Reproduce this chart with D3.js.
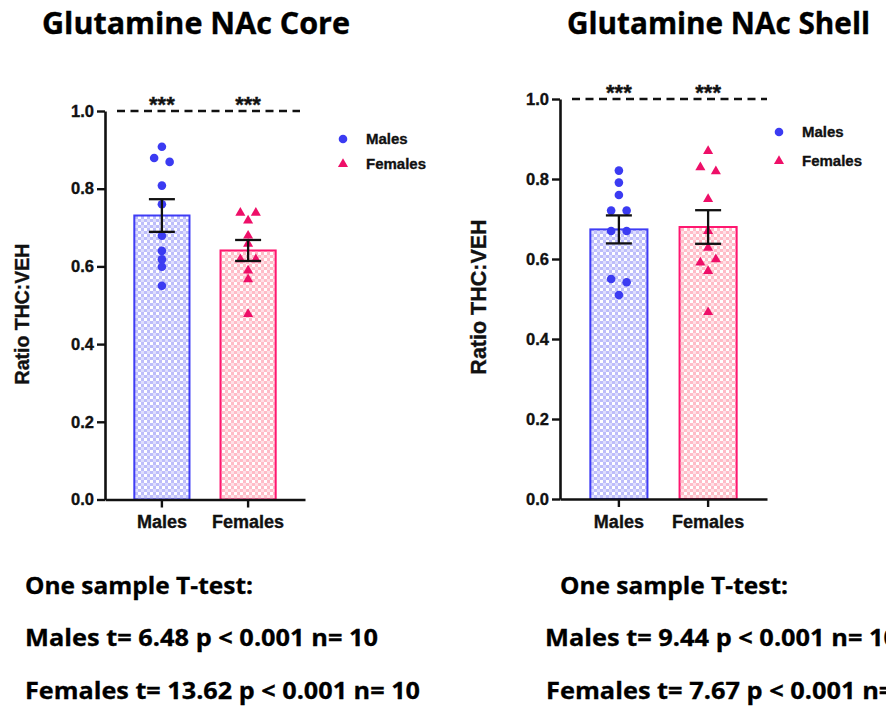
<!DOCTYPE html>
<html>
<head>
<meta charset="utf-8">
<script src="https://cdn.jsdelivr.net/npm/d3@7"></script>
<style>
  html, body { margin: 0; padding: 0; background: #fff; }
  svg { display: block; }
</style>
</head>
<body>
<svg id="chart" width="886" height="706"></svg>
<script>
// Group labels shared by both panels
const groups = ["Males", "Females"];
const yTicks = [0.0, 0.2, 0.4, 0.6, 0.8, 1.0];

// Glutamine, NAc core: individual THC:VEH ratios
const coreMales   = [0.908, 0.879, 0.869, 0.808, 0.760, 0.679, 0.640, 0.618, 0.599, 0.550];
const coreFemales = [0.738, 0.738, 0.718, 0.679, 0.658, 0.618, 0.618, 0.589, 0.567, 0.477];
const coreMeans = [0.731, 0.641];
const coreSems  = [0.042, 0.027];
const coreStats = ["One sample T-test:", "Males t= 6.48 p < 0.001 n= 10", "Females t= 13.62 p < 0.001 n= 10"];

// Glutamine, NAc shell: individual THC:VEH ratios
const shellMales   = [0.821, 0.791, 0.760, 0.721, 0.721, 0.670, 0.670, 0.550, 0.542, 0.510];
const shellFemales = [0.870, 0.829, 0.819, 0.750, 0.670, 0.628, 0.591, 0.599, 0.570, 0.467];
const shellMeans = [0.674, 0.680];
const shellSems  = [0.035, 0.042];
const shellStats = ["One sample T-test:", "Males t= 9.44 p < 0.001 n= 10", "Females t= 7.67 p < 0.001 n= 10"];

const sigMarks = ["***", "***"];
const legendLabels = ["Males", "Females"];

const svg = d3.select("#chart");
const AX = "'Liberation Sans', Arial, sans-serif";
const CAL = "'Open Sans', 'Noto Sans', sans-serif";

const colors = {
  Males:   { stroke: "#3f3cf5", dot: "#3b3bf2", light: "#bdbdfa", lighter: "#dedefd" },
  Females: { stroke: "#ff1770", dot: "#ee0f68", light: "#ffbcc7", lighter: "#ffe0e6" }
};

// Checkered fills for the bars
const defs = svg.append("defs");
groups.forEach(g => {
  const p = defs.append("pattern")
    .attr("id", "chk-" + g)
    .attr("width", 6).attr("height", 6)
    .attr("patternUnits", "userSpaceOnUse");
  p.append("rect").attr("width", 6).attr("height", 6).attr("fill", colors[g].light);
  p.append("rect").attr("x", 0).attr("y", 0).attr("width", 3).attr("height", 3).attr("fill", "#ffffff");
  p.append("rect").attr("x", 3).attr("y", 3).attr("width", 3).attr("height", 3).attr("fill", colors[g].lighter);
});

// Side-by-side offsets for points whose values nearly coincide
function spread(values, gap, step) {
  const idx = values.map((v, i) => i).sort((a, b) => values[b] - values[a]);
  const clusters = [];
  idx.forEach(i => {
    const last = clusters[clusters.length - 1];
    if (last && Math.abs(values[last[last.length - 1]] - values[i]) < gap) last.push(i);
    else clusters.push([i]);
  });
  const off = new Array(values.length).fill(0);
  clusters.forEach(c => {
    c.sort((a, b) => a - b);
    c.forEach((i, k) => { off[i] = (k - (c.length - 1) / 2) * step; });
  });
  return off;
}

function boldText(sel, family, size) {
  return sel.attr("font-family", family).attr("font-weight", "bold")
    .attr("font-size", size).attr("fill", "#111")
    .attr("stroke", "#111").attr("stroke-width", 0.35);
}

function drawPanel(cfg) {
  const g = svg.append("g");
  const x = d3.scaleBand().domain(groups).range([cfg.x0, cfg.x1])
    .paddingInner(0.36).paddingOuter(0.34);
  const y = d3.scaleLinear().domain([0, 1]).range([cfg.yBottom, cfg.yTop]);

  // Bars
  g.selectAll("rect.bar").data(groups).join("rect")
    .attr("class", "bar")
    .attr("x", d => x(d))
    .attr("width", x.bandwidth())
    .attr("y", (d, i) => y(cfg.means[i]))
    .attr("height", (d, i) => y(0) - y(cfg.means[i]))
    .attr("fill", d => `url(#chk-${d})`)
    .attr("stroke", d => colors[d].stroke)
    .attr("stroke-width", 2);

  // Individual points
  const series = [cfg.males, cfg.females];
  series.forEach((vals, si) => {
    const grp = groups[si];
    const cx = x(grp) + x.bandwidth() / 2;
    const off = spread(vals, 0.015, 15.5);
    if (si === 0) {
      g.selectAll(null).data(vals).join("circle")
        .attr("cx", (d, i) => cx + off[i])
        .attr("cy", d => y(d))
        .attr("r", 4.3)
        .attr("fill", colors[grp].dot);
    } else {
      g.selectAll(null).data(vals).join("path")
        .attr("d", d3.symbol(d3.symbolTriangle, 44))
        .attr("transform", (d, i) => `translate(${cx + off[i]},${y(d)})`)
        .attr("fill", colors[grp].dot);
    }
  });

  // Mean ± SEM
  groups.forEach((grp, i) => {
    const cx = x(grp) + x.bandwidth() / 2;
    const hi = y(cfg.means[i] + cfg.sems[i]);
    const lo = y(cfg.means[i] - cfg.sems[i]);
    const w = 13;
    const eb = g.append("g").attr("stroke", "#111").attr("stroke-width", 2.3);
    eb.append("line").attr("x1", cx).attr("x2", cx).attr("y1", hi).attr("y2", lo);
    eb.append("line").attr("x1", cx - w).attr("x2", cx + w).attr("y1", hi).attr("y2", hi);
    eb.append("line").attr("x1", cx - w).attr("x2", cx + w).attr("y1", lo).attr("y2", lo);
  });

  // Reference line at ratio 1.0
  g.append("line")
    .attr("x1", cfg.x0 + 12).attr("x2", cfg.dashEnd)
    .attr("y1", y(1)).attr("y2", y(1))
    .attr("stroke", "#111").attr("stroke-width", 2.5)
    .attr("stroke-dasharray", "8,5.5");

  // Significance stars
  boldText(g.selectAll(null).data(groups).join("text"), AX, 22)
    .attr("x", d => x(d) + x.bandwidth() / 2)
    .attr("y", y(1) + 1)
    .attr("text-anchor", "middle")
    .text((d, i) => sigMarks[i]);

  // Y axis
  const ya = g.append("g").attr("transform", `translate(${cfg.x0},0)`)
    .call(d3.axisLeft(y).tickValues(yTicks).tickFormat(d3.format(".1f"))
      .tickSize(8).tickSizeOuter(0).tickPadding(3));
  ya.select(".domain").attr("stroke", "#111").attr("stroke-width", 2.6);
  ya.selectAll(".tick line").attr("stroke", "#111").attr("stroke-width", 2.4);
  boldText(ya.selectAll(".tick text"), AX, 16.5);

  // X axis
  const xa = g.append("g").attr("transform", `translate(0,${y(0)})`)
    .call(d3.axisBottom(x).tickSize(8).tickSizeOuter(0).tickPadding(8));
  xa.select(".domain").attr("stroke", "#111").attr("stroke-width", 2.6);
  xa.selectAll(".tick line").attr("stroke", "#111").attr("stroke-width", 2.4);
  boldText(xa.selectAll(".tick text"), AX, 18);

  // Y axis title
  boldText(g.append("text"), AX, cfg.yTitleSize)
    .attr("transform", `translate(${cfg.yTitleX},${cfg.yTitleY}) rotate(-90)`)
    .attr("text-anchor", "middle")
    .text("Ratio THC:VEH");

  // Legend
  legendLabels.forEach((lab, i) => {
    const ly = cfg.legendY[i];
    if (i === 0) {
      g.append("circle").attr("cx", cfg.legendX).attr("cy", ly).attr("r", 4.3)
        .attr("fill", colors[lab].dot);
    } else {
      g.append("path").attr("d", d3.symbol(d3.symbolTriangle, 44))
        .attr("transform", `translate(${cfg.legendX},${ly})`)
        .attr("fill", colors[lab].dot);
    }
    boldText(g.append("text"), AX, 15)
      .attr("x", cfg.legendX + 23).attr("y", ly)
      .attr("dy", "0.36em")
      .text(lab);
  });

  // Panel title
  g.append("text")
    .attr("x", cfg.titleX).attr("y", 34)
    .attr("font-family", CAL).attr("font-weight", "bold").attr("font-size", 31)
    .attr("textLength", cfg.titleLen).attr("lengthAdjust", "spacingAndGlyphs")
    .attr("fill", "#000").attr("stroke", "#000").attr("stroke-width", 0.4)
    .text(cfg.title);

  // Test summary
  cfg.stats.forEach((s, i) => {
    g.append("text")
      .attr("x", cfg.statsX[i]).attr("y", cfg.statsY[i])
      .attr("font-family", CAL).attr("font-weight", "bold").attr("font-size", 24)
      .attr("textLength", cfg.statsLen[i]).attr("lengthAdjust", "spacingAndGlyphs")
      .attr("fill", "#000").attr("stroke", "#000").attr("stroke-width", 0.3)
      .text(s);
  });
}

drawPanel({
  title: "Glutamine NAc Core", titleX: 42, titleLen: 308,
  x0: 105, x1: 305, yBottom: 499.5, yTop: 111, dashEnd: 300,
  means: coreMeans, sems: coreSems, males: coreMales, females: coreFemales,
  yTitleX: 29, yTitleY: 314, yTitleSize: 19.5,
  legendX: 343, legendY: [139, 164],
  stats: coreStats, statsX: [25, 25, 25], statsY: [594, 646, 699],
  statsLen: [228, 353, 395]
});

drawPanel({
  title: "Glutamine NAc Shell", titleX: 567, titleLen: 303,
  x0: 560, x1: 767, yBottom: 499, yTop: 99, dashEnd: 767,
  means: shellMeans, sems: shellSems, males: shellMales, females: shellFemales,
  yTitleX: 486, yTitleY: 297, yTitleSize: 21.5,
  legendX: 779, legendY: [132, 161],
  stats: shellStats, statsX: [560, 545, 546], statsY: [594, 646, 699],
  statsLen: [228, 353, 383]
});
</script>
</body>
</html>
